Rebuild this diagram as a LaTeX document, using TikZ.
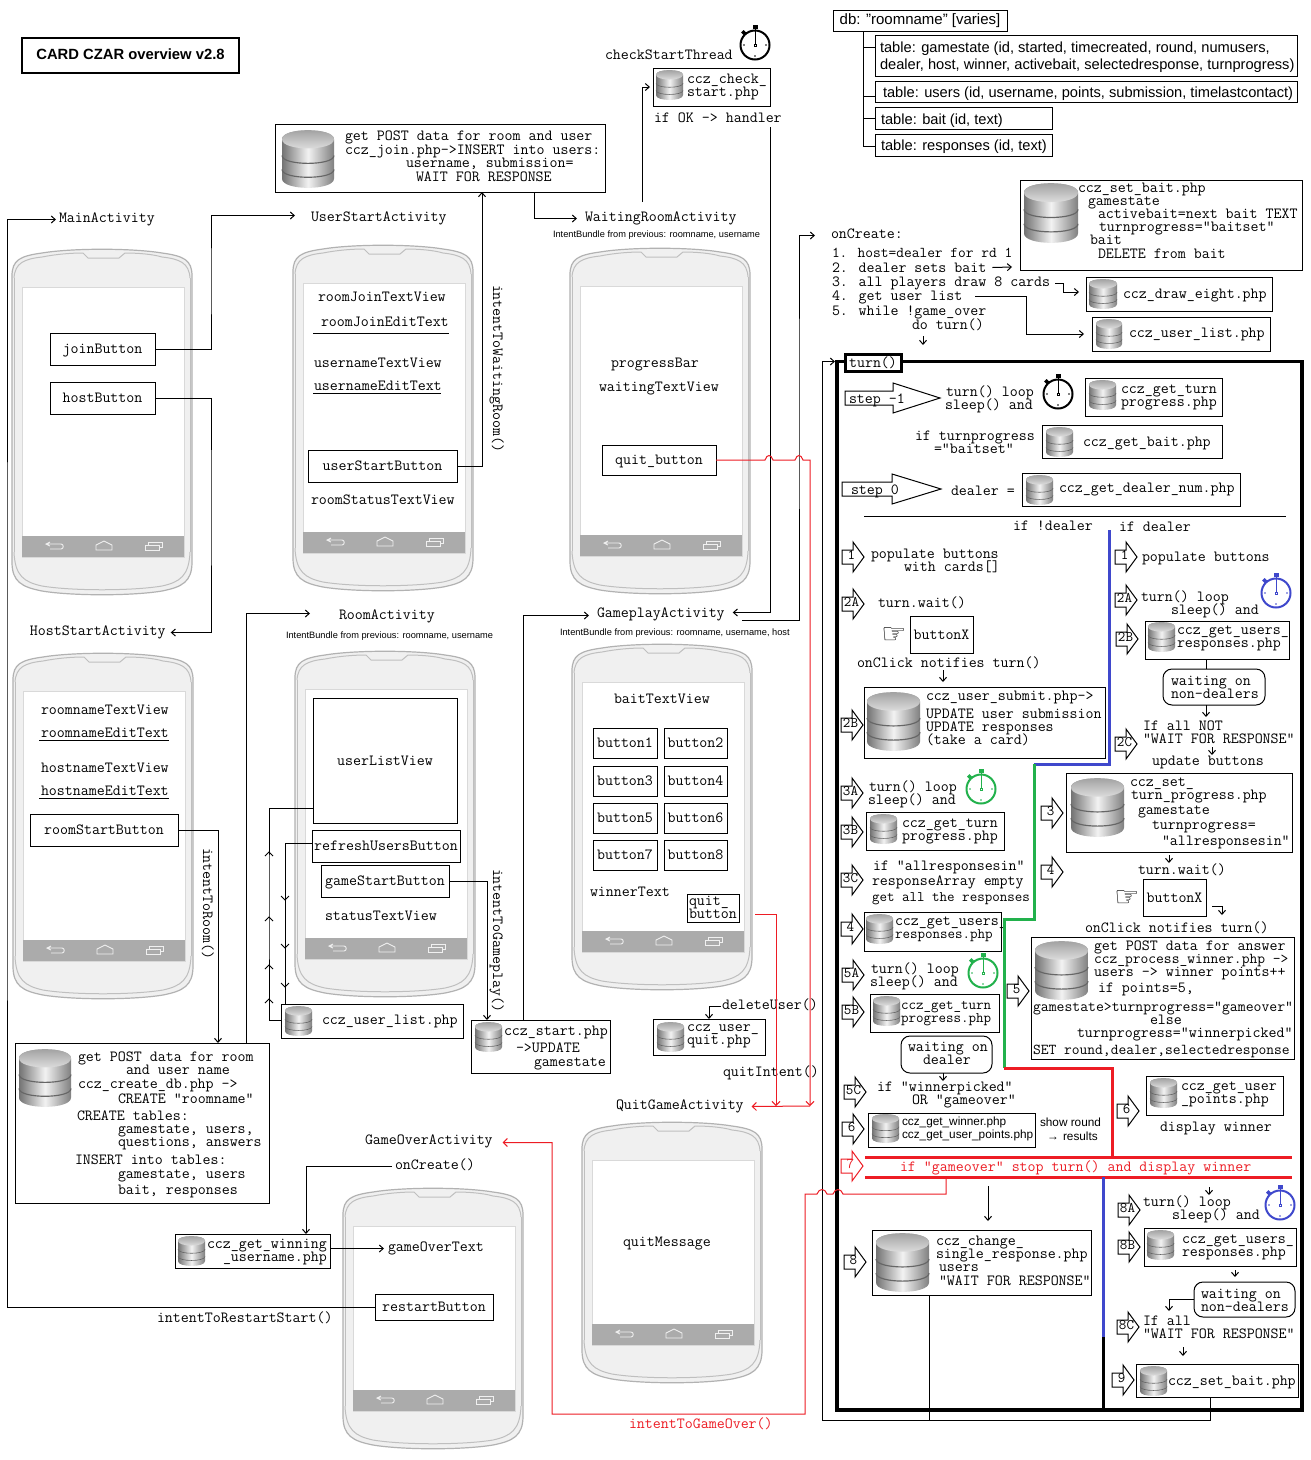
\documentclass[tikz,border=0pt]{standalone}
\usepackage{fontspec}
\setmainfont{Liberation Sans}
\newfontfamily\handfont{DejaVu Sans}
\usetikzlibrary{arrows.meta}
\catcode`\_=12
\definecolor{ccblue}{HTML}{3F48CC}
\definecolor{ccgreen}{HTML}{22B14C}
\definecolor{ccred}{HTML}{ED1C24}
\newcommand{\ccfont}{\fontsize{15.5}{16}\selectfont\ttfamily}
\newcommand{\ccnarrow}{\fontsize{14.6}{16}\selectfont\ttfamily}
\newcount\tcnt
\tikzset{
  ln/.style={draw=black,line width=1pt},
  arr/.style={ln,-{Straight Barb[length=4pt,width=7pt]}},
  rarr/.style={draw=ccred,line width=1pt,-{Straight Barb[length=4pt,width=8pt]}},
  txt/.style={anchor=base west,inner sep=0pt,outer sep=0pt,font=\ccfont,text height=7pt,text depth=2pt},
  bxs/.style={draw=black,line width=1pt,inner sep=0pt,outer sep=0pt,font=\ccfont,text height=11pt,text depth=2pt},
  bubble/.style={bxs,rounded corners=9pt},
  arial/.style={txt,font=\fontsize{14.65}{18}\selectfont\rmfamily},
  tiny/.style={txt,font=\fontsize{9.25}{11}\selectfont\rmfamily},
  small/.style={txt,font=\fontsize{11.8}{14}\selectfont\rmfamily},
  narrowt/.style={font=\ccnarrow},
  handn/.style={inner sep=0pt,font=\fontsize{28}{30}\selectfont\handfont},
  thickb/.style={line width=3pt},
}
\newcommand{\tx}[4][]{\global\advance\tcnt by 1\relax\node[txt,#1] (t\the\tcnt) at (#2,#3) {#4};}
\newcommand{\ntx}[5][]{\node[txt,#1] (#2) at (#3,#4) {#5};}
\newcommand{\bx}[7][]{\node[bxs,#1,minimum width={(#5-#3)*1pt},minimum height={(#6-#4)*1pt}] (#2) at ({(#3+#5)/2},{(#4+#6)/2}) {#7};}
\newcommand{\blk}[4][black]{\begin{scope}[shift={(#2,#3)}]
  \draw[#1,line width=1pt] (0,-7) -- (11,-7) -- (11,-15) -- (22,0) -- (11,15) -- (11,7) -- (0,7) -- cycle;
  \global\advance\tcnt by 1\relax
  \node[txt,anchor=center,text=#1,font=\ccnarrow] (t\the\tcnt) at (9.5,0) {#4};
\end{scope}}
\newcommand{\ccdb}[4]{\begin{scope}[shift={(#1,#2)},x=#3pt,y=-#4pt]
  \shade[left color=black!55,right color=black!50,middle color=black!5]
    (0,.16) .. controls (0,-.05) and (1,-.05) .. (1,.16) -- (1,.84) .. controls (1,1.05) and (0,1.05) .. (0,.84) -- cycle;
  \shade[top color=black!40,bottom color=black!10]
    (0,.16) .. controls (0,-.05) and (1,-.05) .. (1,.16) .. controls (1,.37) and (0,.37) .. (0,.16) -- cycle;
  \draw[black!60,line width=.022*#3pt] (0,.44) .. controls (0,.62) and (1,.62) .. (1,.44);
  \draw[black!60,line width=.022*#3pt] (0,.68) .. controls (0,.86) and (1,.86) .. (1,.68);
\end{scope}}
\newcommand{\watch}[3]{\begin{scope}[shift={(#1,#2)}]
  \draw[#3,line width=2pt] (0,0) circle[radius=14.5];
  \fill[#3] (-2.5,-20) rectangle (2.5,-16);
  \fill[#3] (-11.5,-15) -- (-9,-12.5) -- (-11.5,-10) -- (-14,-12.5) -- cycle;
  \draw[#3,line width=1pt] (0,-16) -- (0,-1);
  \draw[#3,line width=.8pt] (-1,-1) rectangle (1,1);
  \fill[#3] (0,11) circle[radius=.8] (11,0) circle[radius=.8] (-11,0) circle[radius=.8];
\end{scope}}
\newcommand{\phone}[3]{\begin{scope}[shift={(#1,#2)}]
  \draw[draw=black!30,line width=1.2pt,fill=black!6]
    (0,28) .. controls (0,12) and (8,8) .. (30,5) .. controls (60,0) and (120,0) .. (150,5) .. controls (172,8) and (180,12) .. (180,28)
    -- (180,#3-34) .. controls (180,#3-14) and (170,#3-9) .. (150,#3-5) .. controls (120,#3) and (60,#3) .. (30,#3-5) .. controls (10,#3-9) and (0,#3-14) .. (0,#3-34) -- cycle;
  \draw[draw=black!25,line width=1pt]
    (2,30) .. controls (3,15) and (12,11) .. (30,9) .. controls (45,6) and (60,5) .. (71,5) -- (76,10) -- (107,10) -- (113,5) .. controls (125,5) and (140,6) .. (150,9) .. controls (168,11) and (177,15) .. (178,30);
  \draw[draw=black!25,line width=1pt]
    (2,#3-44) .. controls (3,#3-20) and (12,#3-14) .. (30,#3-10) .. controls (60,#3-5) and (120,#3-5) .. (150,#3-10) .. controls (168,#3-14) and (177,#3-20) .. (178,#3-44);
  \draw[draw=black!25,line width=.9pt] (2,30) -- (2,#3-44) (178,30) -- (178,#3-44);
  \path[draw=black!15,line width=1pt,fill=white] (10,39) rectangle (172,#3-39);
  \fill[black!33] (10,#3-60) rectangle (172,#3-39);
  \begin{scope}[shift={(0,#3-50)},draw=black!6,line width=.9pt]
    \draw (38,-4) -- (34,-2) -- (38,0) (34,-2) -- (49,-2) .. controls (52,-2) and (52,3) .. (49,3) -- (38,3);
    \draw (84,4) -- (84,-1) -- (92,-5) -- (100,-1) -- (100,4) -- cycle;
    \draw (133,-1) rectangle (147,4) (136,-1) -- (136,-4) -- (150,-4) -- (150,1) -- (147,1);
  \end{scope}
\end{scope}}
\newcommand{\chevup}[2]{\draw[ln] (#1-4,#2+4) -- (#1,#2) -- (#1+4,#2+4);}
\newcommand{\chevdn}[2]{\draw[ln] (#1-4,#2-4) -- (#1,#2) -- (#1+4,#2-4);}
\newcommand{\dar}[3]{\draw[arr] (#1,#2) -- (#1,#3);}
\begin{document}
\begin{tikzpicture}[x=1pt,y=-1pt]
\useasboundingbox[fill=white] (0,0) rectangle (1310,1460);
% ---------- phones
\phone{12}{248}{348}
\phone{293}{244}{348}
\phone{570}{247}{348}
\phone{13}{652}{348}
\phone{295}{650}{348}
\phone{572}{643}{348}
\phone{582}{1121}{263}
\phone{343}{1187}{263}
% ---------- title
\bx[line width=2.6pt,font=\fontsize{14.8}{17}\selectfont\rmfamily\bfseries,text height=10pt,text depth=2pt]{title}{22}{38}{239}{73}{CARD CZAR overview v2.8}
% ---------- db tree
\bx[font=\fontsize{15}{18}\selectfont\rmfamily,text height=10pt,text depth=2pt]{dbroot}{833}{10}{1007}{31}{db: "roomname" [varies]}
\bx{tgame}{875}{35}{1297}{76}{}
\tx[arial]{880}{52}{table: gamestate (id, started, timecreated, round, numusers,}
\tx[arial]{880}{69}{dealer, host, winner, activebait, selectedresponse, turnprogress)}
\bx{tusers}{875}{81}{1297}{102}{}
\tx[arial]{883}{97}{table: users (id, username, points, submission, timelastcontact)}
\bx{tbait}{875}{107}{1052}{129}{}
\tx[arial]{881}{124}{table: bait (id, text)}
\bx{tresp}{875}{134}{1052}{156}{}
\tx[arial]{881}{150}{table: responses (id, text)}
\coordinate (treeb) at (863.5,146);
\coordinate (treeg) at (863.5,47);
\coordinate (treeu) at (863.5,96);
\draw[ln] (dbroot.south -| treeb) -- (treeb) -- (tresp.west |- treeb);
\draw[ln] (treeg) -- (tgame.west |- treeg);
\draw[ln] (treeu) -- (tusers.west |- treeu);
\draw[ln] (treeb |- tbait.west) -- (tbait.west);
% ---------- activity labels
\ntx{lMain}{59}{222}{MainActivity}
\ntx{lUser}{311}{221}{UserStartActivity}
\ntx{lWait}{585}{221}{WaitingRoomActivity}
\tx[tiny]{553}{237}{IntentBundle from previous: roomname, username}
\ntx{lHost}{30}{635}{HostStartActivity}
\ntx{lRoom}{339}{619}{RoomActivity}
\tx[tiny]{286}{638}{IntentBundle from previous: roomname, username}
\ntx{lGame}{597}{617}{GameplayActivity}
\tx[tiny]{560}{635}{IntentBundle from previous: roomname, username, host}
\ntx{lQuit}{616}{1109}{QuitGameActivity}
\ntx{lOver}{365}{1144}{GameOverActivity}
% ---------- main activity
\bx{joinB}{50}{333}{155}{365}{joinButton}
\bx{hostB}{50}{382}{155}{414}{hostButton}
% ---------- user start
\tx{318}{301}{roomJoinTextView}
\tx{321}{326}{roomJoinEditText}
\tx{314}{367}{usernameTextView}
\tx{314}{390}{usernameEditText}
\coordinate (ul1a) at (313,333); \coordinate (ul1b) at (449,333);
\coordinate (ul2a) at (313,393); \coordinate (ul2b) at (441,393);
\draw[ln] (ul1a) -- (ul1b) (ul2a) -- (ul2b);
\bx{userB}{308}{450}{457}{482}{userStartButton}
\tx{311}{504}{roomStatusTextView}
\tx[rotate=-90]{493}{285}{intentToWaitingRoom()}
% ---------- join box
\bx{joinBox}{275}{124}{605}{192}{}
\ccdb{282}{130}{52}{58}
\tx{345}{140}{get POST data for room and user}
\tx{345}{154}{ccz_join.php->INSERT into users:}
\tx{406}{167}{username, submission=}
\tx{416}{181}{WAIT FOR RESPONSE}
% ---------- waiting room
\tx{611}{367}{progressBar}
\tx{599}{391}{waitingTextView}
\bx{quitB}{602}{445}{716}{475}{quit_button}
\ntx{lThread}{605}{59}{checkStartThread}
\watch{755}{45}{black}
\bx{checkBox}{653}{68}{770}{106}{}
\ccdb{656}{70}{27}{30}
\tx{687}{83}{ccz_check_}
\tx{687}{96}{start.php}
\ntx{lOK}{654}{122}{if OK -> handler}
% ---------- host start
\tx{41}{714}{roomnameTextView}
\tx{41}{737}{roomnameEditText}
\tx{41}{772}{hostnameTextView}
\tx{41}{795}{hostnameEditText}
\coordinate (ul3a) at (39,740); \coordinate (ul3b) at (169,740);
\coordinate (ul4a) at (39,798); \coordinate (ul4b) at (169,798);
\draw[ln] (ul3a) -- (ul3b) (ul4a) -- (ul4b);
\bx{roomB}{30}{814}{178}{846}{roomStartButton}
\tx[rotate=-90]{203}{848}{intentToRoom()}
\bx{createBox}{15}{1043}{269}{1203}{}
\ccdb{19}{1049}{52}{58}
\tx{78}{1061}{get POST data for room}
\tx{126}{1074}{and user name}
\tx{78}{1088}{ccz_create_db.php ->}
\tx{118}{1103}{CREATE "roomname"}
\tx{77}{1120}{CREATE tables:}
\tx{118}{1133}{gamestate, users,}
\tx{118}{1146}{questions, answers}
\tx{75}{1164}{INSERT into tables:}
\tx{118}{1178}{gamestate, users}
\tx{118}{1194}{bait, responses}
% ---------- room
\bx{userList}{313}{698}{457}{823}{userListView}
\bx{refreshB}{312}{830}{460}{862}{refreshUsersButton}
\bx{startB}{321}{865}{449}{897}{gameStartButton}
\tx{325}{920}{statusTextView}
\bx{listBox}{281}{1004}{463}{1038}{}
\ccdb{285}{1006}{27}{30}
\tx{322}{1024}{ccz_user_list.php}
\tx[rotate=-90]{493}{869}{intentToGameplay()}
\bx{startBox}{471}{1020}{610}{1073}{}
\ccdb{475}{1022}{27}{30}
\tx{504}{1035}{ccz_start.php}
\tx{516}{1052}{->UPDATE}
\tx{534}{1066}{gamestate}
% ---------- gameplay
\tx{614}{703}{baitTextView}
\bx{b1}{593}{728}{657}{758}{button1}
\bx{b2}{664}{728}{727}{758}{button2}
\bx{b3}{593}{766}{657}{796}{button3}
\bx{b4}{664}{766}{727}{796}{button4}
\bx{b5}{593}{803}{657}{833}{button5}
\bx{b6}{664}{803}{727}{833}{button6}
\bx{b7}{593}{840}{657}{870}{button7}
\bx{b8}{664}{840}{727}{870}{button8}
\tx{590}{896}{winnerText}
\bx{quitC}{687}{894}{739}{922}{}
\tx{689}{905}{quit_}
\tx{689}{918}{button}
\ntx{lDel}{722}{1009}{deleteUser()}
\bx{quitBox}{653}{1019}{765}{1055}{}
\ccdb{657}{1022}{27}{30}
\tx{687}{1031}{ccz_user_}
\tx{687}{1044}{quit.php}
\tx{723}{1076}{quitIntent()}
% ---------- game over / quit
\ntx{lCreate}{395}{1169}{onCreate()}
\bx{winBox}{175}{1234}{330}{1268}{}
\ccdb{178}{1236}{27}{30}
\tx{207}{1248}{ccz_get_winning}
\tx{223}{1261}{_username.php}
\ntx{lOverT}{388}{1251}{gameOverText}
\bx{restartB}{375}{1294}{493}{1320}{restartButton}
\tx{157}{1322}{intentToRestartStart()}
\tx{623}{1246}{quitMessage}
\tx[text=ccred]{629}{1428}{intentToGameOver()}
% ---------- onCreate list
\ntx{lOn}{831}{238}{onCreate:}
\tx[font=\fontsize{15}{16}\selectfont\ttfamily]{832}{257}{1. host=dealer for rd 1}
\ntx{l2}{832}{272}{2. dealer sets bait}
\ntx{l3}{832}{286}{3. all players draw 8 cards}
\ntx{l4}{832}{300}{4. get user list}
\tx{832}{315}{5. while !game_over}
\ntx{lDo}{912}{329}{do turn()}
\bx{setBox}{1020}{180}{1302}{270}{}
\ccdb{1024}{183}{54}{60}
\tx{1078}{192}{ccz_set_bait.php}
\tx{1088}{205}{gamestate}
\tx{1098}{218}{activebait=next bait TEXT}
\tx{1099}{231}{turnprogress="baitset"}
\tx{1090}{244}{bait}
\tx{1098}{258}{DELETE from bait}
\bx{drawBox}{1086}{277}{1272}{311}{}
\ccdb{1089}{279}{28}{30}
\tx{1123}{298}{ccz_draw_eight.php}
\bx{ulistBox}{1092}{317}{1270}{351}{}
\ccdb{1096}{319}{26}{30}
\tx{1129}{337}{ccz_user_list.php}
% ---------- turn frame
\coordinate (fTL) at (837,361.5); \coordinate (fBR) at (1302,1410);
\draw[black,line width=3.5pt] (fTL) rectangle (fBR);
\bx[line width=3pt,fill=white]{turnB}{845}{354}{901}{371}{turn()}
% step rows
\begin{scope}[shift={(845,398)}]
  \draw[line width=1pt] (0,-7) -- (48,-7) -- (48,-15) -- (95,0) -- (48,15) -- (48,7) -- (0,7) -- cycle;
\end{scope}
\tx{849}{403}{step -1}
\begin{scope}[shift={(842,489)}]
  \draw[line width=1pt] (0,-7) -- (50,-7) -- (50,-15) -- (99,0) -- (50,15) -- (50,7) -- (0,7) -- cycle;
\end{scope}
\tx{851}{494}{step 0}
\tx{946}{396}{turn() loop}
\tx{945}{409}{sleep() and}
\watch{1058}{394}{black}
\bx{gtp1}{1085}{378}{1222}{416}{}
\ccdb{1089}{380}{27}{30}
\tx{1121}{393}{ccz_get_turn}
\tx{1121}{406}{progress.php}
\tx{915}{440}{if turnprogress}
\tx{934}{453}{="baitset"}
\bx{gbait}{1042}{425}{1222}{458}{}
\ccdb{1046}{427}{27}{30}
\tx{1083}{446}{ccz_get_bait.php}
\tx{951}{495}{dealer =}
\bx{gdeal}{1022}{473}{1240}{506}{}
\ccdb{1026}{475}{27}{30}
\tx{1059}{492}{ccz_get_dealer_num.php}
\coordinate (divA) at (864,516); \coordinate (divB) at (1286,516);
\draw[ln] (divA) -- (divB);
\tx{1013}{530}{if !dealer}
\tx{1119}{531}{if dealer}
% left column
\blk{842}{557}{1}
\tx{871}{558}{populate buttons}
\tx{904}{571}{with cards[]}
\blk{842}{604}{2A}
\tx{878}{607}{turn.wait()}
\node[handn] (hand1) at (894,636) {☞};
\bx{btnX1}{910}{616}{973}{653}{buttonX}
\tx{857}{667}{onClick notifies turn()}
\dar{943}{670}{682}
\bx{submitBox}{864}{687}{1105}{758}{}
\ccdb{867}{692}{53}{59}
\tx{926}{700}{ccz_user_submit.php->}
\tx{926}{718}{UPDATE user submission}
\tx{926}{731}{UPDATE responses}
\tx{926}{744}{(take a card)}
\blk{841}{725}{2B}
\blk{841}{793}{3A}
\tx{869}{791}{turn() loop}
\tx{868}{804}{sleep() and}
\watch{981}{789}{ccgreen}
\blk{841}{832}{3B}
\bx{gtp2}{866}{812}{1004}{850}{}
\ccdb{870}{814}{27}{30}
\tx{902}{827}{ccz_get_turn}
\tx{902}{840}{progress.php}
\blk{841}{880}{3C}
\tx{873}{870}{if "allresponsesin"}
\tx{872}{885}{responseArray empty}
\tx[narrowt]{872}{901}{get all the responses}
\blk{841}{929}{4}
\bx{gur1}{864}{912}{1001}{951}{}
\ccdb{866}{914}{27}{30}
\tx{895}{925}{ccz_get_users_}
\tx[narrowt]{895}{938}{responses.php}
\blk{842}{975}{5A}
\tx{871}{973}{turn() loop}
\tx{870}{986}{sleep() and}
\watch{983}{973}{ccgreen}
\blk{842}{1012}{5B}
\bx{gtp3}{870}{994}{999}{1032}{}
\ccdb{873}{996}{27}{30}
\tx[narrowt]{901}{1009}{ccz_get_turn}
\tx[narrowt]{901}{1022}{progress.php}
\bx[bubble]{bub1}{901}{1036}{992}{1073}{}
\tx{908}{1051}{waiting on}
\tx{923}{1064}{dealer}
\dar{943}{1073}{1081}
\blk{844}{1092}{5C}
\tx{877}{1091}{if "winnerpicked"}
\tx{912}{1104}{OR "gameover"}
\blk{842}{1129}{6}
\bx{winnerBox}{868}{1113}{1035}{1147}{}
\ccdb{872}{1114}{27}{29}
\tx[small]{902}{1125}{ccz_get_winner.php}
\tx[small]{902}{1138}{ccz_get_user_points.php}
\tx[small]{1040}{1126}{show round}
\tx[small]{1047}{1140}{→}
\tx[small]{1063}{1140}{results}
% right column
\blk{1115}{557}{1}
\tx{1142}{561}{populate buttons}
\blk{1115}{600}{2A}
\tx{1141}{601}{turn() loop}
\tx{1171}{614}{sleep() and}
\watch{1276}{593}{ccblue}
\blk{1116}{639}{2B}
\bx{gur2}{1145}{621}{1289}{659}{}
\ccdb{1148}{622}{27}{30}
\tx{1177}{634}{ccz_get_users_}
\tx{1177}{647}{responses.php}
\bx[bubble]{bub2}{1163}{669}{1265}{705}{}
\tx{1171}{685}{waiting on}
\tx{1171}{698}{non-dealers}
\coordinate (g2a) at (1206,659); \coordinate (g2b) at (1206,669); \coordinate (g2c) at (1206,705); \coordinate (g2d) at (1206,717);
\draw[ln] (g2a) -- (g2b);
\draw[arr] (g2c) -- (g2d);
\blk{1115}{744}{2C}
\tx{1143}{730}{If all NOT}
\tx{1143}{743}{"WAIT FOR RESPONSE"}
\dar{1212}{747}{755}
\tx{1152}{765}{update buttons}
\blk{1041}{813}{3}
\bx{setTp}{1066}{773}{1292}{852}{}
\ccdb{1071}{778}{53}{59}
\tx{1130}{786}{ccz_set_}
\tx{1131}{799}{turn_progress.php}
\tx{1138}{814}{gamestate}
\tx{1152}{829}{turnprogress=}
\tx{1162}{845}{"allresponsesin"}
\dar{1169}{855}{863}
\blk{1041}{872}{4}
\tx{1138}{874}{turn.wait()}
\node[handn] (hand2) at (1127,899) {☞};
\bx{btnX2}{1143}{879}{1206}{916}{buttonX}
\coordinate (bx2e) at (1212,906); \coordinate (bx2f) at (1222,915);
\draw[arr] (bx2e) -| (bx2f);
\tx{1085}{932}{onClick notifies turn()}
\blk{1007}{991}{5}
\bx{procBox}{1031}{937}{1294}{1059}{}
\ccdb{1035}{941}{53}{59}
\tx{1094}{950}{get POST data for answer}
\tx[font=\fontsize{15.1}{16}\selectfont\ttfamily]{1094}{963}{ccz_process_winner.php ->}
\tx{1094}{976}{users -> winner points++}
\tx{1098}{992}{if points=5,}
\tx[font=\fontsize{15.3}{16}\selectfont\ttfamily]{1033}{1011}{gamestate>turnprogress="gameover"}
\tx{1150}{1024}{else}
\tx{1077}{1037}{turnprogress="winnerpicked"}
\tx[font=\fontsize{15.1}{16}\selectfont\ttfamily]{1033}{1054}{SET round,dealer,selectedresponse}
\blk{1117}{1111}{6}
\bx{gpts}{1146}{1076}{1283}{1115}{}
\ccdb{1150}{1078}{27}{30}
\tx{1181}{1090}{ccz_get_user}
\tx{1181}{1103}{_points.php}
\tx{1160}{1131}{display winner}
% coloured dividers
\coordinate (bl1) at (1109.5,530); \coordinate (bl2) at (1109.5,764); \coordinate (gr1) at (1034,764);
\coordinate (gr2) at (1034,919); \coordinate (gr3) at (1004,919); \coordinate (gr4) at (1004,1068);
\coordinate (rd1) at (1112,1068); \coordinate (rd2) at (1112,1157);
\coordinate (rt1) at (865,1157); \coordinate (rt2) at (1292,1157);
\coordinate (rb1) at (865,1177); \coordinate (rb2) at (1292,1177);
\coordinate (bu1) at (1103,1177); \coordinate (bu2) at (1103,1337); \coordinate (bu3) at (1103,1410);
\draw[ccblue,thickb] (bl1) -- (bl2) -- (gr1);
\draw[ccgreen,thickb] (gr1) -- (gr2) -- (gr3) -- (gr4);
\draw[ccred,thickb] (gr4) -- (rd1) -- (rd2);
\draw[ccred,thickb] (rt1) -- (rt2);
\draw[ccred,thickb] (rb1) -- (rb2);
\draw[ccblue,thickb] (bu1) -- (bu2);
\draw[black,thickb] (bu2) -- (bu3);
\blk[ccred]{841}{1166}{7}
\tx[text=ccred]{900}{1171}{if "gameover" stop turn() and display winner}
% bottom section
\coordinate (ov1) at (988,1186); \coordinate (ov2) at (988,1221);
\draw[arr] (ov1) -- (ov2);
\blk{844}{1262}{8}
\bx{changeBox}{872}{1230}{1091}{1295}{}
\ccdb{876}{1233}{53}{59}
\tx{936}{1245}{ccz_change_}
\tx{936}{1258}{single_response.php}
\tx{939}{1271}{users}
\tx{939}{1285}{"WAIT FOR RESPONSE"}
\dar{1209}{1187}{1195}
\blk{1118}{1210}{8A}
\tx{1143}{1206}{turn() loop}
\tx{1172}{1219}{sleep() and}
\watch{1280}{1205}{ccblue}
\blk{1118}{1247}{8B}
\bx{gur3}{1144}{1228}{1296}{1266}{}
\ccdb{1147}{1230}{27}{30}
\tx{1182}{1243}{ccz_get_users_}
\tx{1182}{1256}{responses.php}
\dar{1235}{1270}{1277}
\bx[bubble]{bub3}{1194}{1282}{1295}{1317}{}
\tx{1201}{1298}{waiting on}
\tx{1201}{1311}{non-dealers}
\coordinate (bb3) at (1169,1311);
\draw[arr] (bub3.west) -| (bb3);
\blk{1117}{1327}{8C}
\tx{1143}{1325}{If all}
\tx{1143}{1338}{"WAIT FOR RESPONSE"}
\dar{1183}{1347}{1356}
\blk{1112}{1380}{9}
\bx{box9}{1136}{1364}{1298}{1397}{}
\ccdb{1140}{1366}{27}{30}
\tx{1168}{1385}{ccz_set_bait.php}
% ---------- connectors
\coordinate (cL) at (7,700);
\draw[arr] (restartB.west) -| (cL) |- ([xshift=-3pt]lMain.west);
\coordinate (c1) at (211,280);
\draw[arr] (joinB.east) -| (c1) |- ([xshift=-16pt,yshift=3pt]lUser.west);
\coordinate (c2) at (211,500);
\draw[arr] (hostB.east) -| (c2) |- ([xshift=5pt]lHost.east);
\coordinate (c3) at (218,1043);
\draw[arr] (roomB.east) -| (c3);
\coordinate (c4) at (246,1043);
\draw[arr] (c4) |- ([xshift=-29pt,yshift=3pt]lRoom.west);
\coordinate (c5) at (482,192);
\draw[arr] (userB.east) -| (c5);
\coordinate (c6) at (534,192);
\draw[arr] (c6) |- ([xshift=-8pt]lWait.west);
\coordinate (c7) at (642,202);
\draw[arr] (c7) |- ([xshift=-3pt]checkBox.west);
\coordinate (c9) at (770,127);
\draw[arr] (c9) |- ([xshift=8pt,yshift=2pt]lGame.east);
\coordinate (c10) at (742,620); \coordinate (c11) at (799,400);
\draw[arr] (c10) -| (c11) |- ([xshift=-16pt]lOn.west);
\coordinate (c16) at (523,1020);
\draw[arr] (c16) |- ([xshift=-8pt,yshift=-1pt]lGame.west);
\coordinate (c17) at (487,1020);
\draw[arr] (startB.east) -| (c17);
\coordinate (c18) at (269,900); \coordinate (c19) at (313,808); \coordinate (c20) at (281,1020);
\draw[ln] (c19) -| (c18) |- (c20);
\coordinate (c21) at (285,1004);
\draw[ln] ([yshift=3pt]refreshB.west) -| (c21);
\chevup{269}{852}\chevup{269}{917}\chevup{269}{965}\chevup{269}{999}
\chevdn{285}{900}\chevdn{285}{948}\chevdn{285}{987}
\draw[arr] ([xshift=-1pt]lDel.west) -| (quitBox.north);
\coordinate (c22) at (306,1234);
\draw[arr] ([xshift=-3pt]lCreate.west) -| (c22);
\draw[arr] (winBox.east |- lOverT.west) -- ([xshift=-4pt]lOverT.west);
% onCreate list arrows
\coordinate (e2) at (1012,267);
\draw[arr] ([xshift=6pt,yshift=2pt]l2.east) -- (e2);
\coordinate (c3m) at (1063,288);
\draw[arr] ([xshift=5pt]l3.east) -| (c3m) |- ([xshift=-7pt,yshift=2pt]drawBox.west);
\coordinate (c4m) at (1026,320);
\draw[arr] ([xshift=13pt,yshift=1pt]l4.east) -| (c4m) |- ([xshift=-8pt]ulistBox.west);
\dar{923}{336}{345}
% loop back
\coordinate (lo) at (822,1420); \coordinate (c23) at (929,1295);
\draw[ln] (c23) -- (c23 |- lo);
\draw[arr] ([xshift=-7pt]box9.south) |- (lo) |- ([xshift=-2pt]fTL);
% red connectors
\coordinate (r13) at (810,1106); \coordinate (r14) at (755,914); \coordinate (r15) at (776,1106);
\draw[rarr] (quitB.east) -- (765,460) .. controls (767,454) and (771,454) .. (773,460) -- (795,460) .. controls (797,454) and (801,454) .. (803,460) -| (r13);
\draw[rarr] (r14) -| (r15);
\draw[rarr] (r13) -- ([xshift=8pt]lQuit.east);
\coordinate (r1) at (946,1177); \coordinate (r2) at (805,1414); \coordinate (r3) at (552,1300);
\draw[rarr] (r1) |- (843,1194) .. controls (841,1188) and (835,1188) .. (833,1194) -- (827,1194) .. controls (825,1188) and (819,1188) .. (817,1194) -| (r2) -| (r3) |- ([xshift=10pt,yshift=-1pt]lOver.east);
\end{tikzpicture}
\end{document}
